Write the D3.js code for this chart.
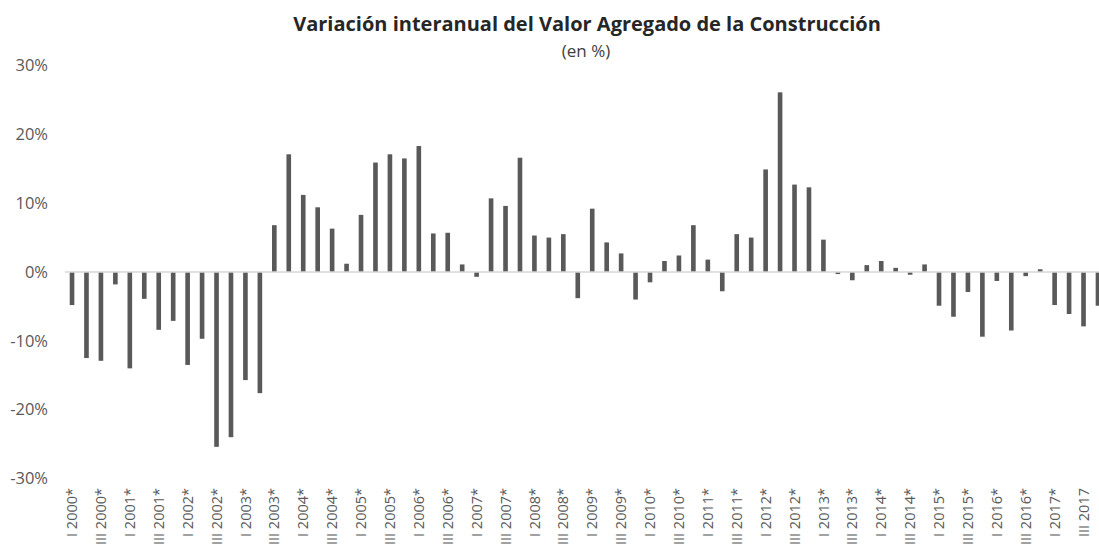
<!DOCTYPE html>
<html>
<head>
<meta charset="utf-8">
<script src="https://cdn.jsdelivr.net/npm/d3@7"></script>
<style>
  body { margin: 0; background: #fff; }
  text { font-family: "Open Sans", "Noto Sans", sans-serif; }
</style>
</head>
<body>
<div id="chart"></div>
<script>
// quarters I 2000 .. IV 2017, values in %
var quarters = [
  "I 2000*", "II 2000*", "III 2000*", "IV 2000*",
  "I 2001*", "II 2001*", "III 2001*", "IV 2001*",
  "I 2002*", "II 2002*", "III 2002*", "IV 2002*",
  "I 2003*", "II 2003*", "III 2003*", "IV 2003*",
  "I 2004*", "II 2004*", "III 2004*", "IV 2004*",
  "I 2005*", "II 2005*", "III 2005*", "IV 2005*",
  "I 2006*", "II 2006*", "III 2006*", "IV 2006*",
  "I 2007*", "II 2007*", "III 2007*", "IV 2007*",
  "I 2008*", "II 2008*", "III 2008*", "IV 2008*",
  "I 2009*", "II 2009*", "III 2009*", "IV 2009*",
  "I 2010*", "II 2010*", "III 2010*", "IV 2010*",
  "I 2011*", "II 2011*", "III 2011*", "IV 2011*",
  "I 2012*", "II 2012*", "III 2012*", "IV 2012*",
  "I 2013*", "II 2013*", "III 2013*", "IV 2013*",
  "I 2014*", "II 2014*", "III 2014*", "IV 2014*",
  "I 2015*", "II 2015*", "III 2015*", "IV 2015*",
  "I 2016*", "II 2016*", "III 2016*", "IV 2016*",
  "I 2017*", "II 2017", "III 2017", "IV 2017"
];

var variation = [
  -4.8, -12.5, -12.9, -1.8,
  -14.0, -3.9, -8.4, -7.1,
  -13.5, -9.7, -25.4, -24.0,
  -15.7, -17.6, 6.8, 17.1,
  11.2, 9.4, 6.3, 1.2,
  8.3, 15.9, 17.1, 16.5,
  18.3, 5.6, 5.7, 1.1,
  -0.7, 10.7, 9.6, 16.6,
  5.3, 5.0, 5.5, -3.8,
  9.2, 4.3, 2.7, -4.0,
  -1.5, 1.6, 2.4, 6.8,
  1.8, -2.8, 5.5, 5.0,
  14.9, 26.1, 12.7, 12.3,
  4.7, -0.3, -1.2, 1.0,
  1.6, 0.6, -0.4, 1.1,
  -4.9, -6.5, -2.9, -9.4,
  -1.3, -8.5, -0.6, 0.4,
  -4.8, -6.1, -7.9, -4.9
];

var yTicks = [-30, -20, -10, 0, 10, 20, 30];

var width = 1099,
    height = 548;

var svg = d3.select("#chart").append("svg")
    .attr("width", width)
    .attr("height", height);

var x = d3.scaleBand()
    .domain(quarters)
    .range([64.8, 64.8 + 14.45 * quarters.length])
    .paddingInner(0.68)
    .paddingOuter(0.34);

var y = d3.scaleLinear()
    .domain([-30, 30])
    .range([478.5, 65.5]);

// title
svg.append("text")
    .attr("x", 587)
    .attr("y", 31)
    .attr("text-anchor", "middle")
    .style("font-size", "20px")
    .style("font-weight", "bold")
    .style("fill", "#262626")
    .text("Variación interanual del Valor Agregado de la Construcción");

svg.append("text")
    .attr("x", 586)
    .attr("y", 57)
    .attr("text-anchor", "middle")
    .style("font-size", "17px")
    .style("fill", "#404040")
    .text("(en %)");

// y axis labels, no line
var yAxis = svg.append("g")
    .attr("transform", "translate(48,0)")
    .call(d3.axisLeft(y).tickValues(yTicks).tickSize(0).tickPadding(0)
      .tickFormat(function(d) { return d + "%"; }));
yAxis.select(".domain").remove();
yAxis.selectAll("text")
    .style("font-size", "16.5px")
    .style("fill", "#595959")
    .style("font-family", "'Open Sans', sans-serif");

// bars
svg.append("g").selectAll("rect")
    .data(variation)
  .enter().append("rect")
    .attr("x", function(d, i) { return x(quarters[i]); })
    .attr("width", x.bandwidth())
    .attr("y", function(d) { return y(Math.max(0, d)); })
    .attr("height", function(d) { return Math.abs(y(d) - y(0)); })
    .style("fill", "#595959");

// zero line
svg.append("line")
    .attr("x1", 64.8)
    .attr("x2", width)
    .attr("y1", y(0))
    .attr("y2", y(0))
    .style("stroke", "#d9d9d9")
    .style("stroke-width", 1.5);

// x axis labels, every other quarter
var xAxis = svg.append("g")
    .attr("transform", "translate(0,487)")
    .call(d3.axisBottom(x).tickSize(0)
      .tickValues(quarters.filter(function(d, i) { return i % 2 == 0; })));
xAxis.select(".domain").remove();
xAxis.selectAll("text")
    .attr("transform", "rotate(-90)")
    .attr("x", -1)
    .attr("y", 0)
    .attr("dy", "0.35em")
    .style("text-anchor", "end")
    .style("font-size", "14.5px")
    .style("fill", "#595959")
    .style("font-family", "'Open Sans', sans-serif");
</script>
</body>
</html>
